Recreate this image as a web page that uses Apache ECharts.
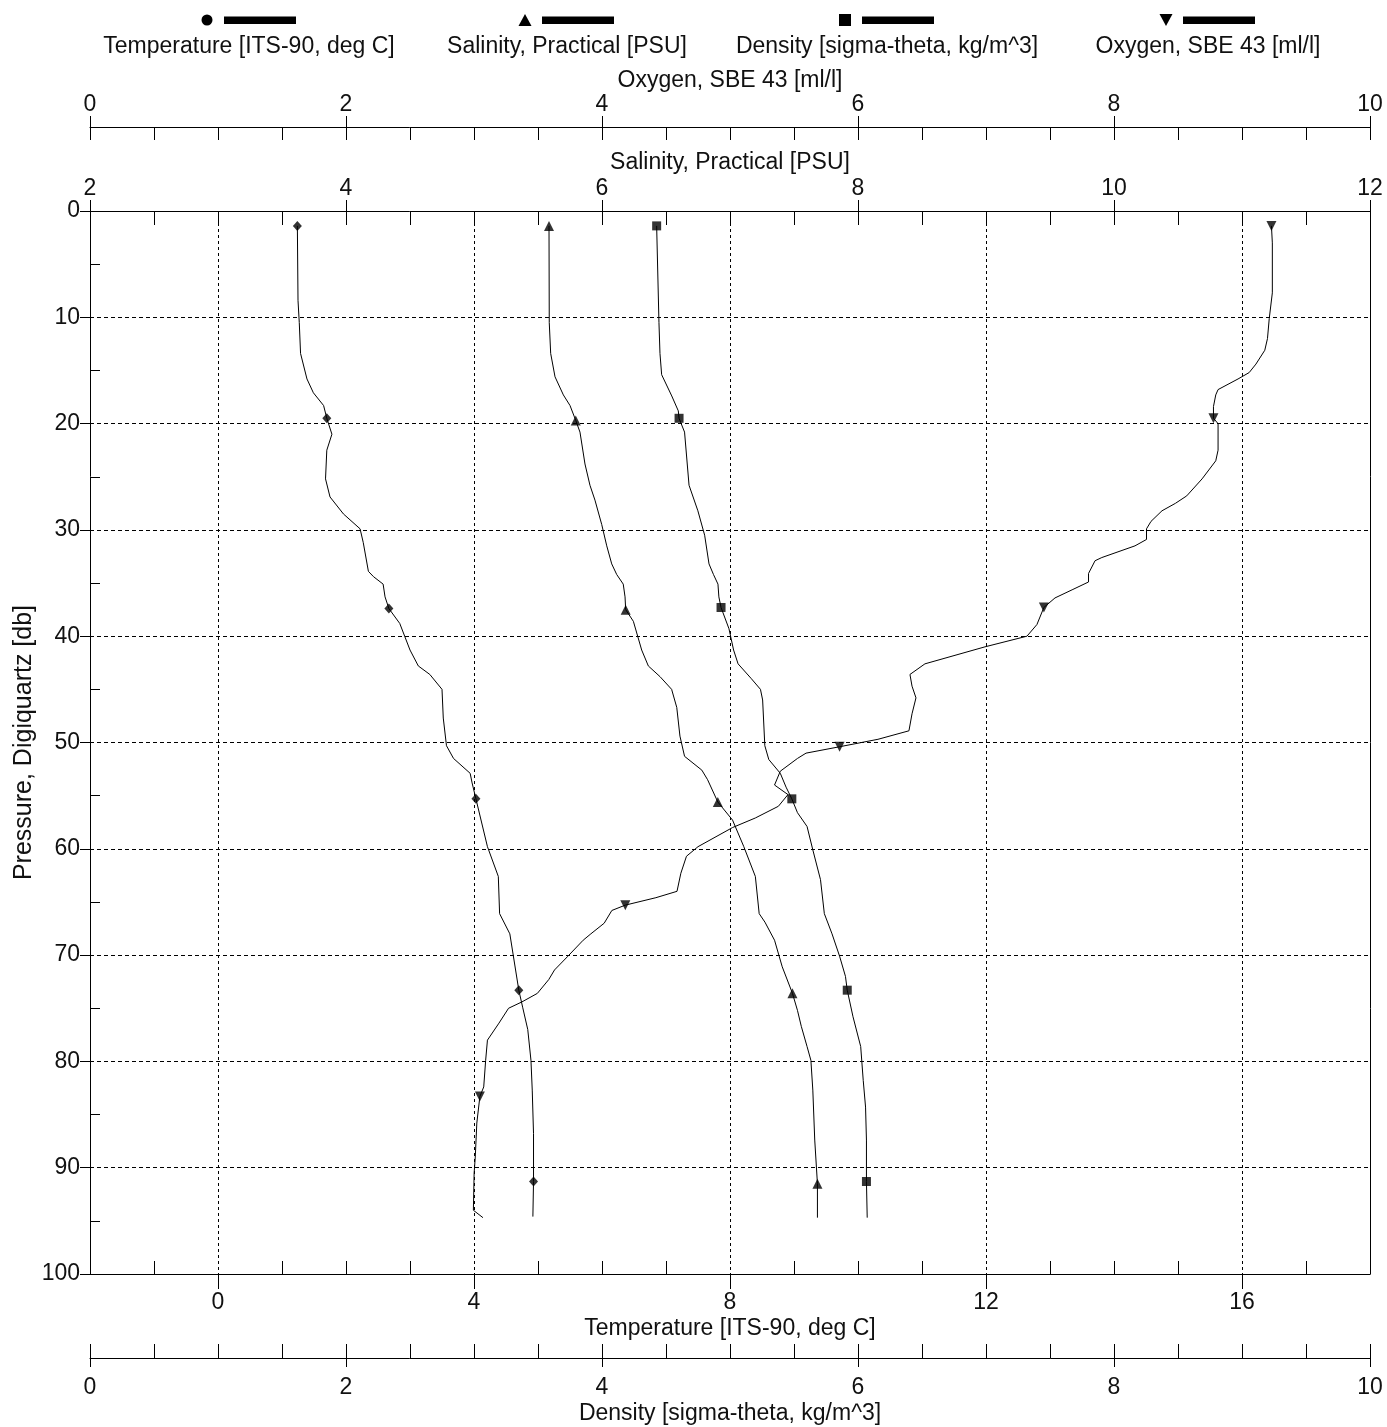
<!DOCTYPE html>
<html>
<head>
<meta charset="utf-8">
<script src="https://cdn.jsdelivr.net/npm/echarts@6/dist/echarts.min.js"></script>
<style>
html,body{margin:0;padding:0;background:#fff;}
#chart{width:1387px;height:1427px;}
</style>
</head>
<body>
<div id="chart"></div>
<script>
// ---------------- DATA ----------------
const tempP = [1.4, 8.4, 10.5, 13.4, 15.8, 17.1, 18.3, 19.5, 21, 22.5, 25.2, 26.9, 28.5, 29.9, 31.2, 33.9, 34.4, 35.1, 36.3, 37.4, 38.8, 41.3, 42.8, 43.6, 45, 47.7, 50.3, 51.5, 52.9, 53.8, 55.3, 59.8, 62.6, 66.1, 68, 73.3, 74.9, 77, 79.9, 82.7, 86.8, 91.3, 94.6];
const tempV = [1.24, 1.25, 1.27, 1.29, 1.39, 1.49, 1.65, 1.70, 1.78, 1.70, 1.68, 1.75, 1.96, 2.22, 2.27, 2.35, 2.43, 2.58, 2.61, 2.67, 2.84, 3.00, 3.13, 3.31, 3.50, 3.52, 3.57, 3.68, 3.94, 3.97, 4.03, 4.21, 4.38, 4.40, 4.56, 4.70, 4.76, 4.84, 4.89, 4.91, 4.93, 4.93, 4.92];
const tempMarkP = [1.4, 19.5, 37.4, 55.3, 73.3, 91.3];
const tempMarkV = [1.24, 1.70, 2.67, 4.03, 4.70, 4.93];

const salP = [1.4, 10.5, 13.4, 15.6, 17.3, 18.3, 19.7, 20.8, 23.8, 25.8, 27.2, 29.5, 31.5, 33.2, 34.2, 35.1, 36.3, 37.5, 38.6, 41.3, 42.8, 43.8, 45, 46.7, 49.4, 51.3, 52.6, 53.5, 55.6, 57.3, 59.8, 62.6, 66.1, 66.9, 68.6, 71.1, 73.6, 75.2, 76.7, 78.6, 79.9, 82.7, 87.4, 91.5, 94.7];
const salV = [5.586, 5.588, 5.599, 5.633, 5.698, 5.750, 5.795, 5.828, 5.867, 5.906, 5.945, 5.998, 6.037, 6.076, 6.115, 6.166, 6.180, 6.185, 6.245, 6.310, 6.362, 6.453, 6.544, 6.584, 6.609, 6.645, 6.780, 6.825, 6.905, 7.020, 7.108, 7.198, 7.228, 7.273, 7.348, 7.408, 7.488, 7.527, 7.557, 7.602, 7.632, 7.647, 7.662, 7.683, 7.683];
const salMarkP = [1.4, 19.7, 37.5, 55.6, 73.6, 91.5];
const salMarkV = [5.586, 5.795, 6.185, 6.905, 7.488, 7.683];

const densP = [1.4, 10.5, 13.4, 15.4, 17.4, 18.8, 19.5, 20.8, 25.8, 28.2, 30.5, 33.2, 34.2, 35.1, 36.3, 37.3, 39.3, 41.3, 42.6, 44, 45, 46, 50.3, 51.6, 52.9, 54.2, 55.3, 56.6, 57.9, 60.1, 62.9, 66.1, 68, 70.1, 72, 73.3, 75.8, 78.6, 81.8, 84.3, 87.4, 91.3, 94.7];
const densV = [4.427, 4.445, 4.453, 4.466, 4.545, 4.596, 4.602, 4.645, 4.680, 4.749, 4.802, 4.836, 4.871, 4.906, 4.913, 4.930, 4.992, 5.028, 5.063, 5.167, 5.238, 5.255, 5.272, 5.303, 5.393, 5.438, 5.483, 5.527, 5.602, 5.647, 5.707, 5.737, 5.797, 5.856, 5.902, 5.916, 5.961, 6.021, 6.041, 6.059, 6.066, 6.066, 6.072];
const densMarkP = [1.4, 19.5, 37.3, 55.3, 73.3, 91.3];
const densMarkV = [4.427, 4.602, 4.930, 5.483, 5.916, 6.066];

const oxyP = [1.4, 3, 7.7, 10.1, 12, 13.1, 14.4, 15.2, 15.8, 16.8, 17.3, 18.4, 19.5, 20, 22.5, 23.5, 25.2, 26.8, 27.5, 28.2, 29.2, 29.9, 30.9, 31.5, 32.6, 32.9, 34.1, 34.9, 35.6, 36.4, 37.3, 38.9, 40, 41, 42.6, 43.6, 44.7, 45.8, 47.3, 48.9, 49.7, 50.4, 51, 51.5, 52.7, 54, 54.9, 56, 57.1, 58, 59.8, 60.7, 62.3, 64, 64.6, 65.3, 65.8, 67, 68, 68.6, 70.1, 71.4, 72.3, 73.6, 74.4, 75, 76.4, 78, 79.9, 82.4, 83.3, 85.8, 89, 90.5, 94, 94.7];
const oxyV = [9.230, 9.237, 9.237, 9.213, 9.199, 9.178, 9.109, 9.056, 8.969, 8.813, 8.795, 8.777, 8.777, 8.813, 8.813, 8.795, 8.688, 8.568, 8.480, 8.375, 8.289, 8.254, 8.254, 8.164, 7.905, 7.852, 7.801, 7.801, 7.679, 7.539, 7.452, 7.398, 7.320, 6.992, 6.523, 6.406, 6.422, 6.453, 6.422, 6.398, 6.156, 5.856, 5.594, 5.527, 5.393, 5.348, 5.453, 5.378, 5.198, 5.020, 4.750, 4.660, 4.616, 4.586, 4.421, 4.182, 4.077, 4.017, 3.913, 3.853, 3.734, 3.629, 3.584, 3.495, 3.375, 3.270, 3.195, 3.105, 3.091, 3.076, 3.046, 3.022, 3.010, 3.001, 2.995, 3.070];
const oxyMarkP = [1.4, 19.5, 37.3, 50.4, 65.3, 83.3];
const oxyMarkV = [9.230, 8.777, 7.452, 5.856, 4.182, 3.046];

const tempTicks = [0, 4, 8, 12, 16];
const tempMinorTicks = [-1, 1, 2, 3, 5, 6, 7, 9, 10, 11, 13, 14, 15, 17];
const presMinorTicks = [5, 15, 25, 35, 45, 55, 65, 75, 85, 95];

const legendNames = ['Temperature [ITS-90, deg C]', 'Salinity, Practical [PSU]', 'Density [sigma-theta, kg/m^3]', 'Oxygen, SBE 43 [ml/l]'];
const axisNames = {
  temp: 'Temperature [ITS-90, deg C]',
  sal: 'Salinity, Practical [PSU]',
  dens: 'Density [sigma-theta, kg/m^3]',
  oxy: 'Oxygen, SBE 43 [ml/l]',
  pres: 'Pressure, Digiquartz [db]'
};

// ---------------- CHART ----------------
const zip = (v, p) => v.map((x, i) => [x, p[i]]);
const FONT = 'Liberation Sans, Arial, Helvetica, sans-serif';
const INK = '#000';
const FS = 23;
const txt = {fontFamily: FONT, fontSize: FS, color: '#111'};
const lineSt = {color: INK, width: 1};

function mainX(o) {
  return Object.assign({
    type: 'value', gridIndex: 0,
    axisLine: {show: true, onZero: false, lineStyle: lineSt},
    axisTick: {show: true, inside: false, length: 11, lineStyle: lineSt},
    axisLabel: Object.assign({show: true, margin: 12}, txt),
    splitLine: {show: false},
    nameLocation: 'middle',
    nameMoveOverlap: false,
    nameTextStyle: txt
  }, o);
}
function minorX(o) {
  return Object.assign({
    type: 'value', gridIndex: 0,
    axisLine: {show: false, onZero: false},
    axisTick: {show: true, inside: true, length: 13, lineStyle: lineSt},
    axisLabel: {show: false},
    splitLine: {show: false}
  }, o);
}

const chart = echarts.init(document.getElementById('chart'), null, {renderer: 'canvas'});

const legendX = [249, 567, 887, 1208];
const graphics = [];
legendNames.forEach((n, i) => {
  const cx = legendX[i];
  const mx = cx - 42, my = 20;
  let shape;
  if (i === 0) shape = {type: 'circle', shape: {cx: mx, cy: my, r: 5.5}};
  else if (i === 1) shape = {type: 'polygon', shape: {points: [[mx, my - 6], [mx + 6.5, my + 6], [mx - 6.5, my + 6]]}};
  else if (i === 2) shape = {type: 'rect', shape: {x: mx - 6, y: my - 6, width: 12, height: 12}};
  else shape = {type: 'polygon', shape: {points: [[mx - 6.5, my - 6], [mx + 6.5, my - 6], [mx, my + 6]]}};
  shape.style = {fill: INK};
  graphics.push(shape);
  graphics.push({type: 'rect', shape: {x: cx - 25, y: 16.5, width: 72, height: 7.5}, style: {fill: INK}});
  graphics.push({type: 'text', x: cx, y: 47, style: {text: n, font: FS + 'px ' + FONT, fill: '#111', align: 'center', verticalAlign: 'middle'}});
});

const option = {
  backgroundColor: '#fff',
  animation: false,
  grid: [{left: 90, right: 17, top: 211, bottom: 153, containLabel: false, outerBoundsMode: 'none'}],
  graphic: graphics,
  xAxis: [
    // 0 temperature (bottom)
    mainX({
      position: 'bottom', min: -2, max: 18,
      axisTick: {show: true, inside: false, length: 15, customValues: tempTicks, lineStyle: lineSt},
      axisLabel: Object.assign({show: true, margin: 17, customValues: tempTicks}, txt),
      splitLine: {show: true, lineStyle: {color: INK, width: 1, type: [3, 3]}},
      name: axisNames.temp, nameGap: 43
    }),
    // 1 temperature minor
    minorX({position: 'bottom', min: -2, max: 18,
      axisTick: {show: true, inside: true, length: 13, customValues: tempMinorTicks, lineStyle: lineSt}}),
    // 2 density (bottom, offset)
    mainX({
      position: 'bottom', offset: 84, min: 0, max: 10, interval: 2,
      axisTick: {show: true, inside: false, length: 9, lineStyle: lineSt},
      axisLabel: Object.assign({show: true, margin: 18}, txt),
      name: axisNames.dens, nameGap: 44
    }),
    // 3 density minor
    minorX({position: 'bottom', offset: 84, min: 0, max: 10, interval: 0.5,
      axisTick: {show: true, inside: true, length: 14, lineStyle: lineSt}}),
    // 4 salinity (top)
    mainX({
      position: 'top', min: 2, max: 12, interval: 2,
      axisTick: {show: true, inside: false, length: 11, lineStyle: lineSt},
      axisLabel: Object.assign({show: true, margin: 11}, txt),
      name: axisNames.sal, nameGap: 37
    }),
    // 5 salinity minor
    minorX({position: 'top', min: 2, max: 12, interval: 0.5,
      axisTick: {show: true, inside: true, length: 14, lineStyle: lineSt}}),
    // 6 oxygen (top, offset)
    mainX({
      position: 'top', offset: 84, min: 0, max: 10, interval: 2,
      axisTick: {show: true, inside: false, length: 11, lineStyle: lineSt},
      axisLabel: Object.assign({show: true, margin: 11}, txt),
      name: axisNames.oxy, nameGap: 35
    }),
    // 7 oxygen minor
    minorX({position: 'top', offset: 84, min: 0, max: 10, interval: 0.5,
      axisTick: {show: true, inside: true, length: 13, lineStyle: lineSt}})
  ],
  yAxis: [
    {
      type: 'value', gridIndex: 0, position: 'left', inverse: true, min: 0, max: 100, interval: 10,
      axisLine: {show: true, onZero: false, lineStyle: lineSt},
      axisTick: {show: true, inside: false, length: 10, lineStyle: lineSt},
      axisLabel: Object.assign({show: true, margin: 10}, txt),
      splitLine: {show: true, lineStyle: {color: INK, width: 1, type: [4, 3]}},
      name: axisNames.pres, nameLocation: 'middle', nameGap: 53, nameMoveOverlap: false,
      nameTextStyle: {fontFamily: FONT, fontSize: 25, color: '#111'}
    },
    {
      type: 'value', gridIndex: 0, position: 'left', inverse: true, min: 0, max: 100,
      axisLine: {show: false, onZero: false},
      axisTick: {show: true, inside: true, length: 10, customValues: presMinorTicks, lineStyle: lineSt},
      axisLabel: {show: false},
      splitLine: {show: false}
    },
    {
      type: 'value', gridIndex: 0, position: 'right', inverse: true, min: 0, max: 100,
      axisLine: {show: true, onZero: false, lineStyle: lineSt},
      axisTick: {show: false},
      axisLabel: {show: false},
      splitLine: {show: false}
    }
  ],
  series: [
    {type: 'line', name: legendNames[0], xAxisIndex: 0, yAxisIndex: 0, data: zip(tempV, tempP), showSymbol: false, symbol: 'none', lineStyle: lineSt, z: 3},
    {type: 'line', name: legendNames[1], xAxisIndex: 4, yAxisIndex: 0, data: zip(salV, salP), showSymbol: false, symbol: 'none', lineStyle: lineSt, z: 3},
    {type: 'line', name: legendNames[2], xAxisIndex: 2, yAxisIndex: 0, data: zip(densV, densP), showSymbol: false, symbol: 'none', lineStyle: lineSt, z: 3},
    {type: 'line', name: legendNames[3], xAxisIndex: 6, yAxisIndex: 0, data: zip(oxyV, oxyP), showSymbol: false, symbol: 'none', lineStyle: lineSt, z: 3},
    {type: 'scatter', xAxisIndex: 0, yAxisIndex: 0, data: zip(tempMarkV, tempMarkP), symbol: 'diamond', symbolSize: [9, 10], itemStyle: {color: INK}, z: 4},
    {type: 'scatter', xAxisIndex: 4, yAxisIndex: 0, data: zip(salMarkV, salMarkP), symbol: 'triangle', symbolSize: [10, 10], itemStyle: {color: INK}, z: 4},
    {type: 'scatter', xAxisIndex: 2, yAxisIndex: 0, data: zip(densMarkV, densMarkP), symbol: 'rect', symbolSize: [9, 9], itemStyle: {color: INK}, z: 4},
    {type: 'scatter', xAxisIndex: 6, yAxisIndex: 0, data: zip(oxyMarkV, oxyMarkP), symbol: 'triangle', symbolRotate: 180, symbolSize: [10, 10], itemStyle: {color: INK}, z: 4}
  ]
};
chart.setOption(option);
</script>
</body>
</html>
